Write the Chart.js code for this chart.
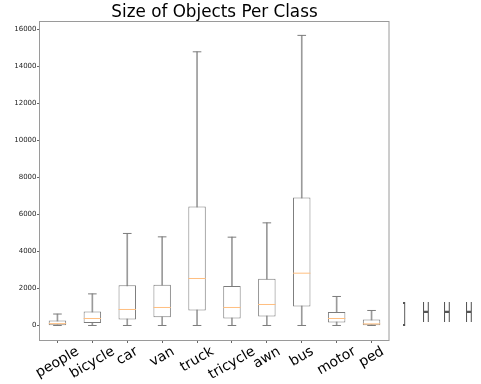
<!DOCTYPE html>
<html><head><meta charset="utf-8">
<script src="https://cdn.jsdelivr.net/npm/chart.js@4.4.0/dist/chart.umd.min.js"></script>
<style>
html,body{margin:0;padding:0;background:#fff;}
#wrap{position:relative;width:481px;height:384px;overflow:hidden;}
canvas{display:block;}
.glyph{position:absolute;font-family:'DejaVu Sans';font-size:27.4px;line-height:27.4px;color:#555;transform-origin:left top;transform:scaleX(0.38);white-space:pre;}
</style></head><body>
<div id="wrap"><canvas id="c" width="481" height="384"></canvas></div>
<script>
const categories = ['people','bicycle','car','van','truck','tricycle','awn','bus','motor','ped'];
const whiskerLow = [0,0,0,0,0,0,0,0,0,0];
const q1 = [15,140,324,449,811,378,486,1027,162,16];
const medians = [100,378,865,973,2540,973,1135,2827,378,86];
const q3 = [270,757,2178,2195,6432,2140,2519,6919,735,324];
const whiskerHigh = [620,1708,4973,4790,14789,4773,5546,15676,1568,811];
const yTickValues = [0,2000,4000,6000,8000,10000,12000,14000,16000];
const titleText = 'Size of Objects Per Class';
const sideGlyphs = [']','H','H','H'];
const yMin = -784, yMax = 16464;

const boxColor = '#7c7c7c';
const whiskerColor = '#9a9a9a';
const medianColor = '#ffbf80';

const wrap = document.getElementById('wrap');
const glyphLeft = [401.5, 421.5, 443, 464.5];
sideGlyphs.forEach((g, i) => {
  const s = document.createElement('span');
  s.className = 'glyph';
  s.textContent = g;
  s.style.left = glyphLeft[i] + 'px';
  s.style.top = '299px';
  wrap.appendChild(s);
});

const frame = {
  id: 'frame',
  afterDraw(chart) {
    const {ctx, chartArea: a} = chart;
    ctx.save();
    ctx.strokeStyle = '#9a9a9a';
    ctx.lineWidth = 1;
    ctx.strokeRect(Math.round(a.left) - 0.5, Math.round(a.top) + 0.5, Math.round(a.right - a.left) + 0.5, Math.round(a.bottom - a.top));
    ctx.restore();
  }
};

const xLabels = {
  id: 'xLabels',
  afterDraw(chart) {
    const {ctx} = chart;
    const xs = chart.scales.x;
    const fs = 14;
    const ang = 30 * Math.PI / 180;
    const top = chart.chartArea.bottom + 3.5;
    ctx.save();
    ctx.font = fs + 'px "DejaVu Sans"';
    ctx.fillStyle = '#000';
    categories.forEach((lab, i) => {
      const x = xs.getPixelForTick(i);
      const w = ctx.measureText(lab).width;
      const h = fs * 1.164;
      const cy = top + (w * Math.sin(ang) + h * Math.cos(ang)) / 2;
      ctx.save();
      ctx.translate(x, cy);
      ctx.rotate(-ang);
      ctx.textAlign = 'center';
      ctx.textBaseline = 'middle';
      ctx.fillText(lab, 0, 0);
      ctx.restore();
    });
    ctx.restore();
  }
};

const zip = (a, b) => a.map((v, i) => [v, b[i]]);

new Chart(document.getElementById('c'), {
  type: 'bar',
  data: {
    labels: categories,
    datasets: [
      {
        type: 'line', label: 'median', data: medians, order: 0,
        showLine: false, pointStyle: 'line', pointRadius: 8.7, pointHoverRadius: 8.7,
        pointBorderColor: medianColor, pointBorderWidth: 1, borderColor: medianColor
      },
      {
        type: 'line', label: 'capHigh', data: whiskerHigh, order: 1,
        showLine: false, pointStyle: 'line', pointRadius: 4.3, pointHoverRadius: 4.3,
        pointBorderColor: boxColor, pointBorderWidth: 1, borderColor: boxColor
      },
      {
        type: 'line', label: 'capLow', data: whiskerLow, order: 1,
        showLine: false, pointStyle: 'line', pointRadius: 4.3, pointHoverRadius: 4.3,
        pointBorderColor: boxColor, pointBorderWidth: 1, borderColor: boxColor
      },
      {
        label: 'box', data: zip(q1, q3), order: 2, grouped: false,
        backgroundColor: '#ffffff', borderColor: boxColor, borderWidth: 1, borderSkipped: false,
        barPercentage: 0.5, categoryPercentage: 1
      },
      {
        label: 'whisker', data: zip(whiskerLow, whiskerHigh), order: 3, grouped: false,
        backgroundColor: whiskerColor, borderWidth: 0, barThickness: 1
      }
    ]
  },
  options: {
    responsive: false,
    animation: false,
    devicePixelRatio: 1,
    events: [],
    layout: { padding: { left: 0, right: 92, top: 0, bottom: 0 } },
    plugins: {
      legend: { display: false },
      tooltip: { enabled: false },
      title: {
        display: true, text: titleText, fullSize: false,
        color: '#000',
        font: { family: 'DejaVu Sans', size: 16.8, weight: 'normal', lineHeight: 1 },
        padding: { top: 4, bottom: 0 }
      }
    },
    scales: {
      x: {
        offset: true,
        afterFit(s) { s.height = 44; },
        grid: { offset: false, drawOnChartArea: false, drawTicks: true, tickLength: 3, color: '#666' },
        border: { display: false },
        ticks: { display: false }
      },
      y: {
        min: yMin, max: yMax,
        afterFit(s) { s.width = 40; },
        afterBuildTicks(s) { s.ticks = yTickValues.map(v => ({ value: v })); },
        grid: { drawOnChartArea: false, drawTicks: true, tickLength: 3, color: '#666' },
        border: { display: false },
        ticks: {
          padding: 0.5, autoSkip: false,
          callback: (v) => String(v),
          color: '#222', font: { family: 'DejaVu Sans', size: 7 }
        }
      }
    }
  },
  plugins: [frame, xLabels]
});
</script>
</body></html>
